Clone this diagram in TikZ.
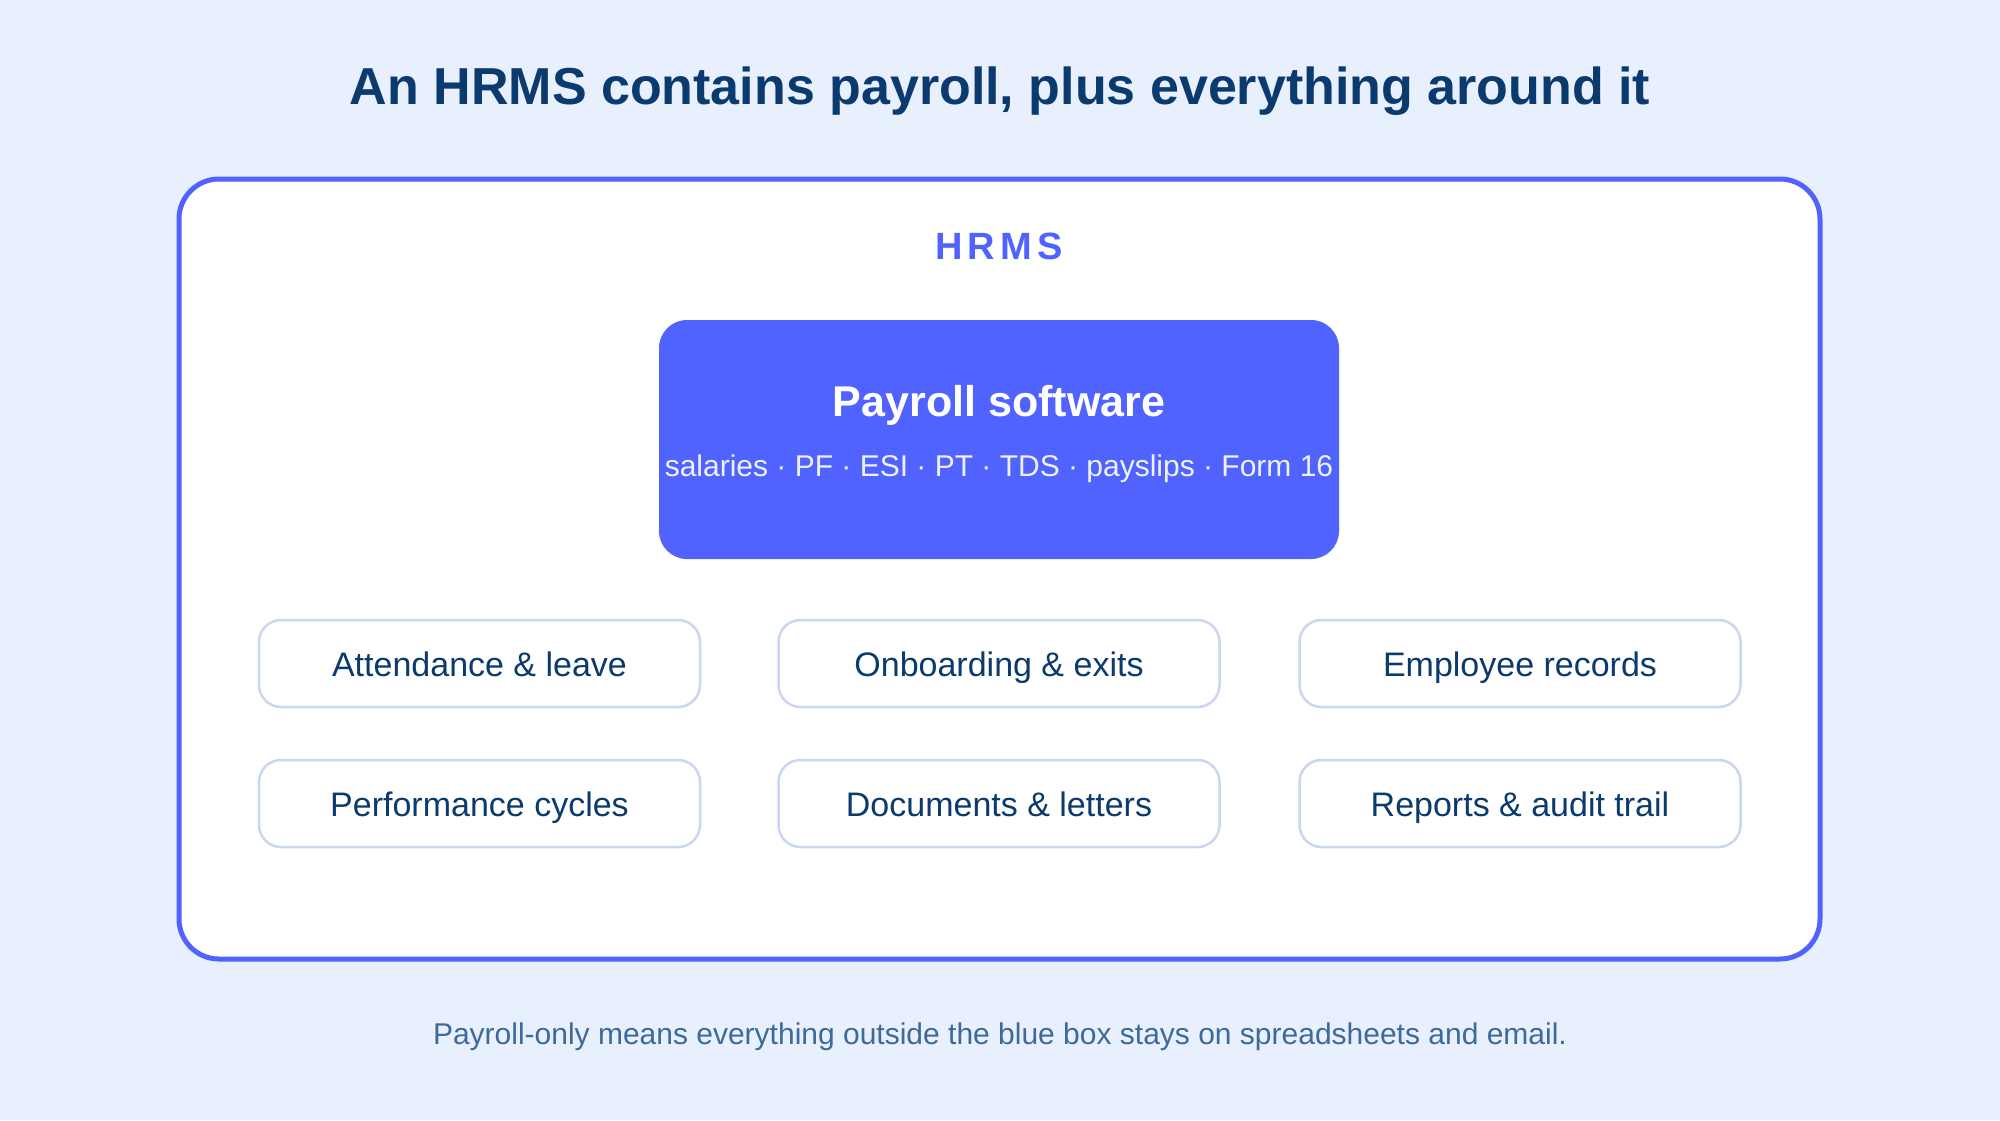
\documentclass[tikz,border=0pt]{standalone}
\usepackage{fontspec}
\setmainfont{Liberation Sans}
\definecolor{bgc}{HTML}{E8F0FD}
\definecolor{navy}{HTML}{0B3A6E}
\definecolor{indigo}{HTML}{5063FE}
\definecolor{boxline}{HTML}{CAD6F2}
\definecolor{subtxt}{HTML}{EEF1FF}
\definecolor{foot}{HTML}{3D6A9A}
\tikzset{
  modbox/.style={draw=boxline, line width=2.5pt, fill=white, rounded corners=22pt,
    minimum width=441pt, minimum height=87pt, inner sep=0pt},
  modtxt/.style={anchor=base, text=navy, font=\fontsize{34}{40}\selectfont, inner sep=0pt},
}
\begin{document}
\begin{tikzpicture}[x=1pt,y=-1pt]
\useasboundingbox (0,0) rectangle (2000,1120);
\fill[bgc] (0,0) rectangle (2000,1120);
\node[anchor=base, text=navy, font=\fontsize{52}{62}\selectfont\bfseries, inner sep=0pt] (title) at (1000,104) {An HRMS contains payroll, plus everything around it};
\draw[draw=indigo, line width=5pt, fill=white, rounded corners=40pt] (179,179) rectangle (1820,959);
\coordinate (outer) at (1000,569);
\node[anchor=base, text=indigo, font=\fontsize{38}{44}\selectfont\bfseries, inner sep=0pt] (hrms) at (999,259) {H\hspace{5pt}R\hspace{5pt}M\hspace{5pt}S};
\node[fill=indigo, rounded corners=28pt, minimum width=680pt, minimum height=239pt, inner sep=0pt] (payroll) at (999,439.5) {};
\node[anchor=base, text=white, font=\fontsize{43}{50}\selectfont\bfseries, inner sep=0pt] (ptitle) at (999,416) {Payroll software};
\node[anchor=base, text=subtxt, font=\fontsize{30}{36}\selectfont, inner sep=0pt] (psub) at (999,476) {salaries · PF · ESI · PT · TDS · payslips · Form 16};
\node[modbox] (m1) at (479.5,663.5) {};
\node[modbox] (m2) at (999,663.5) {};
\node[modbox] (m3) at (1520,663.5) {};
\node[modbox] (m4) at (479.5,803.5) {};
\node[modbox] (m5) at (999,803.5) {};
\node[modbox] (m6) at (1520,803.5) {};
\node[modtxt] (t1) at (479.5,676) {Attendance \& leave};
\node[modtxt] (t2) at (999,676) {Onboarding \& exits};
\node[modtxt] (t3) at (1520,676) {Employee records};
\node[modtxt] (t4) at (479.5,816) {Performance cycles};
\node[modtxt] (t5) at (999,816) {Documents \& letters};
\node[modtxt] (t6) at (1520,816) {Reports \& audit trail};
\node[anchor=base, text=foot, font=\fontsize{30}{36}\selectfont, inner sep=0pt] (note) at (1000,1044) {Payroll-only means everything outside the blue box stays on spreadsheets and email.};
\end{tikzpicture}
\end{document}
